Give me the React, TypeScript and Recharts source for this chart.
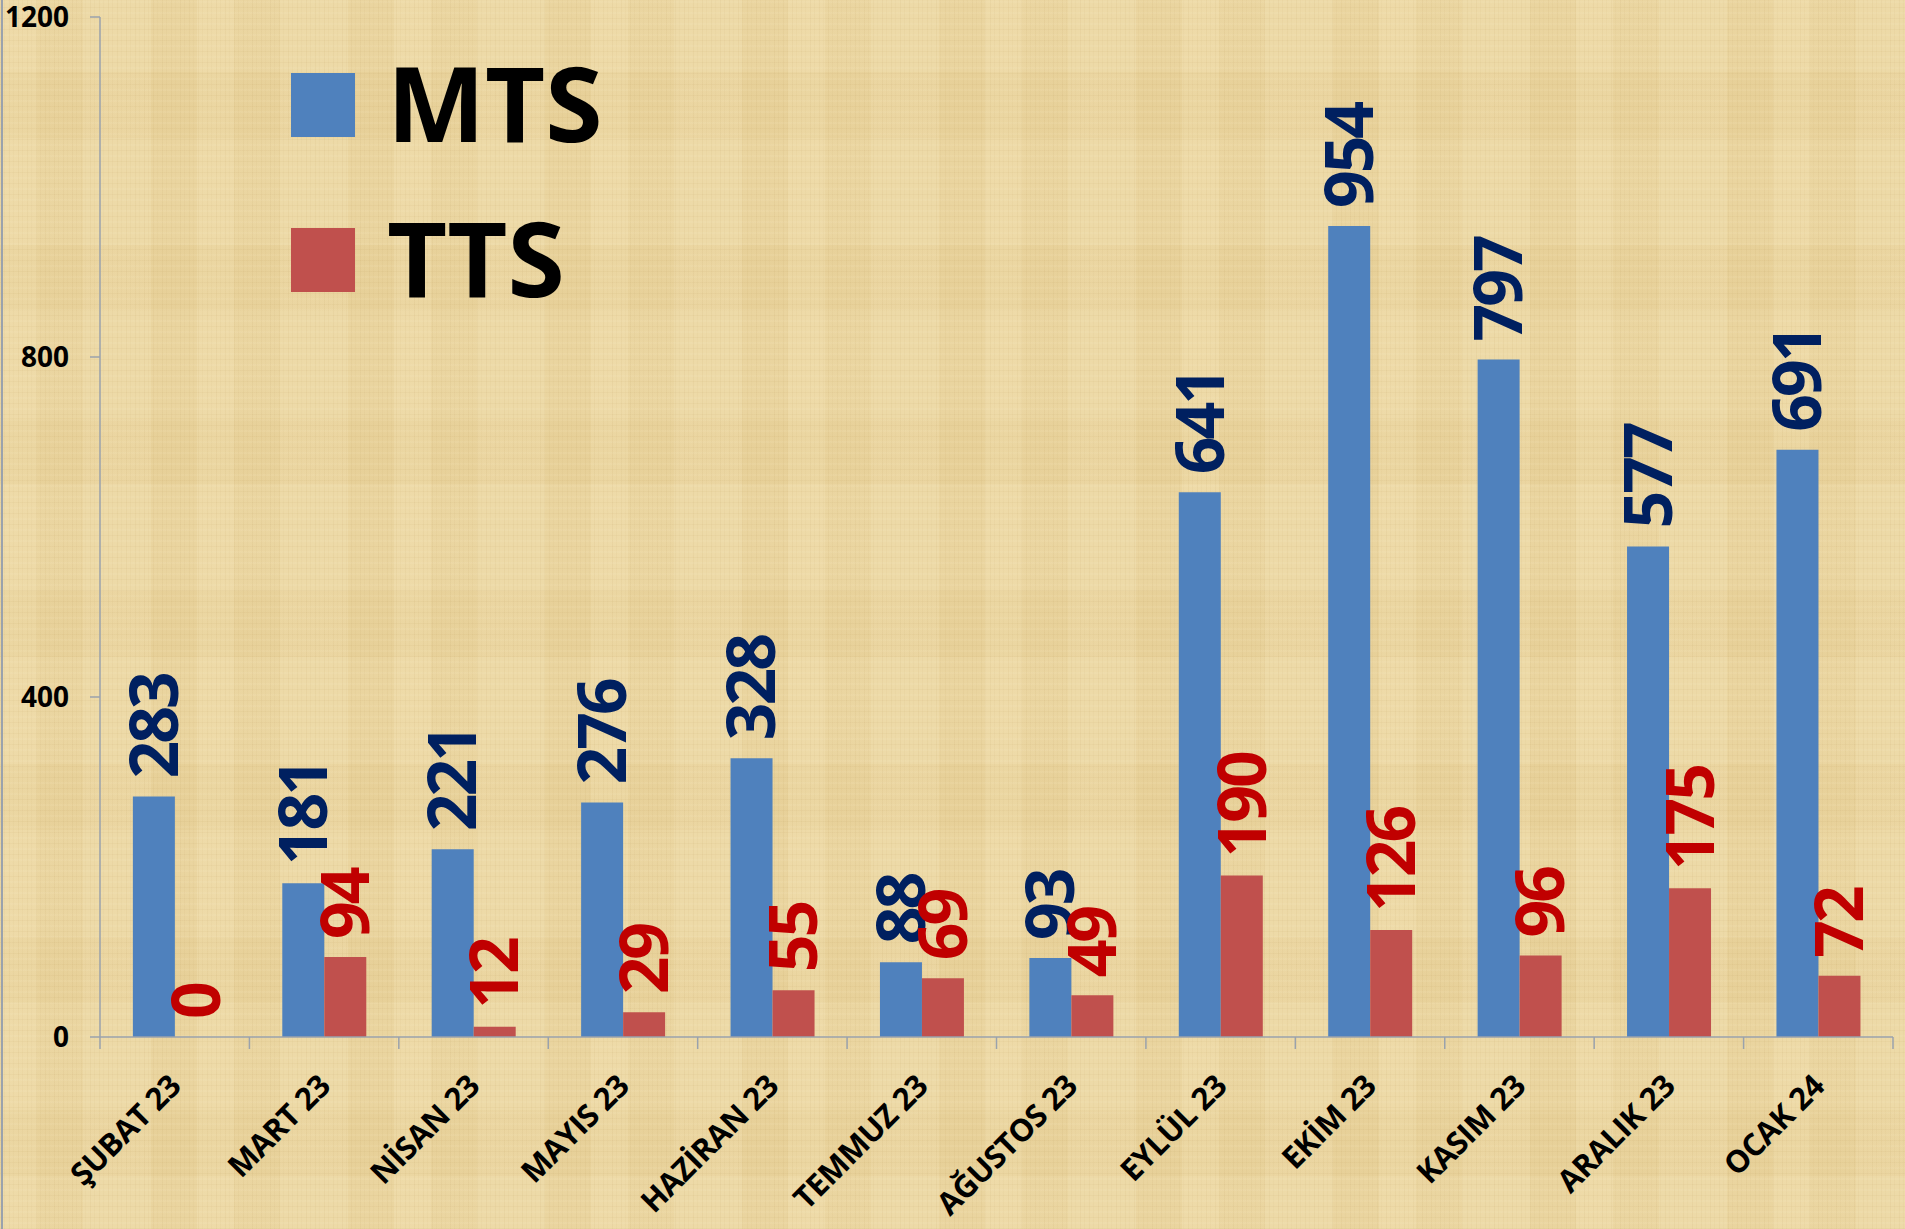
import React from "react";
import { BarChart, Bar, XAxis, YAxis, LabelList } from "recharts";

// monthly counts
const MONTHS = [
  "ŞUBAT 23",
  "MART 23",
  "NİSAN 23",
  "MAYIS 23",
  "HAZİRAN 23",
  "TEMMUZ 23",
  "AĞUSTOS 23",
  "EYLÜL 23",
  "EKİM 23",
  "KASIM 23",
  "ARALIK 23",
  "OCAK 24",
];
const MTS = [283, 181, 221, 276, 328, 88, 93, 641, 954, 797, 577, 691];
const TTS = [0, 94, 12, 29, 55, 69, 49, 190, 126, 96, 175, 72];
const Y_TICKS = [0, 400, 800, 1200];

const W = 1905;
const H = 1229;
const FONT = "'Open Sans', 'DejaVu Sans', sans-serif";
const AXIS = "#9AA2AC";
const BLUE = "#4F81BD";
const RED = "#C0504D";
const BLUE_TXT = "#002060";
const RED_TXT = "#C00000";

const MARGIN = { top: 17, right: 12, left: 0, bottom: 0 };
const Y_W = 100;
const BAND = (W - MARGIN.left - MARGIN.right - Y_W) / MONTHS.length;

const data = MONTHS.map((m, i) => ({ month: m, mts: MTS[i], tts: TTS[i] }));

function MonthTick({ x, y, payload, index }: any) {
  const half = BAND / 2;
  const tx = x + 8;
  const ty = y + 51;
  return (
    <g>
      <line x1={x - half} x2={x - half} y1={y} y2={y + 12} stroke={AXIS} strokeWidth={1.5} />
      {index === MONTHS.length - 1 && (
        <line x1={x + half} x2={x + half} y1={y} y2={y + 12} stroke={AXIS} strokeWidth={1.5} />
      )}
      <text
        x={tx}
        y={ty}
        transform={`rotate(-45 ${tx} ${ty})`}
        textAnchor="end"
        fontFamily={FONT}
        fontWeight={700}
        fontSize={31}
        letterSpacing={-0.5}
        fill="#000"
      >
        {payload.value}
      </text>
    </g>
  );
}

function CountTick({ x, y, payload }: any) {
  return (
    <g>
      <line x1={x - 10} x2={x} y1={y} y2={y} stroke={AXIS} strokeWidth={1.5} />
      <text
        x={x - 31}
        y={y}
        dy="0.36em"
        textAnchor="end"
        fontFamily={FONT}
        fontWeight={700}
        fontSize={28}
        fill="#000"
      >
        {payload.value}
      </text>
    </g>
  );
}

const valueLabel = (color: string) => (props: any) => {
  const { x, y, width, value } = props;
  if (x == null || y == null) return null;
  const cx = Number(x) + Number(width) / 2;
  const ty = Number(y) - 18;
  return (
    <text
      x={cx}
      y={ty}
      dy="0.36em"
      transform={`rotate(-90 ${cx} ${ty})`}
      textAnchor="start"
      fontFamily={FONT}
      fontWeight={700}
      fontSize={66}
      letterSpacing={-3}
      fill={color}
    >
      {String(value)}
    </text>
  );
};

function LegendBox() {
  const rows = [
    { name: "MTS", color: BLUE },
    { name: "TTS", color: RED },
  ];
  return (
    <div style={{ position: "absolute", left: 291, top: 27 }}>
      {rows.map((r) => (
        <div key={r.name} style={{ display: "flex", alignItems: "center", height: 155 }}>
          <span style={{ display: "inline-block", width: 64, height: 64, background: r.color }} />
          <span
            style={{
              marginLeft: 32,
              fontFamily: FONT,
              fontWeight: 700,
              fontSize: 104,
              lineHeight: 1,
              color: "#000",
              position: "relative",
              top: -3,
            }}
          >
            {r.name}
          </span>
        </div>
      ))}
    </div>
  );
}

export default function App() {
  return (
    <div
      style={{
        position: "absolute",
        left: 0,
        top: 0,
        width: W,
        height: H,
        overflow: "hidden",
        backgroundColor: "#EBD6A1",
        backgroundImage: [
          "repeating-linear-gradient(90deg, rgba(160,120,50,0.06) 0 1px, transparent 1px 4px, rgba(160,120,50,0.04) 4px 5px, transparent 5px 9px)",
          "repeating-linear-gradient(0deg, rgba(160,120,50,0.05) 0 1px, transparent 1px 5px, rgba(255,245,215,0.08) 5px 7px, transparent 7px 11px)",
          "repeating-linear-gradient(90deg, rgba(255,240,200,0.10) 0 37px, rgba(205,170,95,0.05) 37px 83px, rgba(255,240,205,0.08) 83px 151px, rgba(200,160,80,0.06) 151px 197px)",
          "repeating-linear-gradient(0deg, rgba(255,240,205,0.07) 0 53px, rgba(200,165,90,0.05) 53px 119px, rgba(255,245,215,0.06) 119px 173px)",
        ].join(", "),
      }}
    >
      <div style={{ position: "absolute", left: 1, top: 0, width: 1.5, height: H, background: AXIS }} />
      <BarChart
        width={W}
        height={H}
        data={data}
        margin={MARGIN}
        barCategoryGap="22%"
        barGap={0}
      >
        <XAxis
          dataKey="month"
          interval={0}
          height={H - 1037}
          tickSize={0}
          tickMargin={0}
          tickLine={false}
          axisLine={{ stroke: AXIS, strokeWidth: 1.5 }}
          tick={<MonthTick />}
        />
        <YAxis
          type="number"
          domain={[0, 1200]}
          ticks={Y_TICKS}
          width={Y_W}
          tickSize={0}
          tickMargin={0}
          tickLine={false}
          axisLine={{ stroke: AXIS, strokeWidth: 1.5 }}
          tick={<CountTick />}
        />
        <Bar dataKey="mts" name="MTS" fill={BLUE} isAnimationActive={false}>
          <LabelList dataKey="mts" content={valueLabel(BLUE_TXT)} />
        </Bar>
        <Bar
          dataKey="tts"
          name="TTS"
          fill={RED}
          minPointSize={(v: number) => (v === 0 ? 0.01 : 0)}
          isAnimationActive={false}
        >
          <LabelList dataKey="tts" content={valueLabel(RED_TXT)} />
        </Bar>
      </BarChart>
      <LegendBox />
    </div>
  );
}
